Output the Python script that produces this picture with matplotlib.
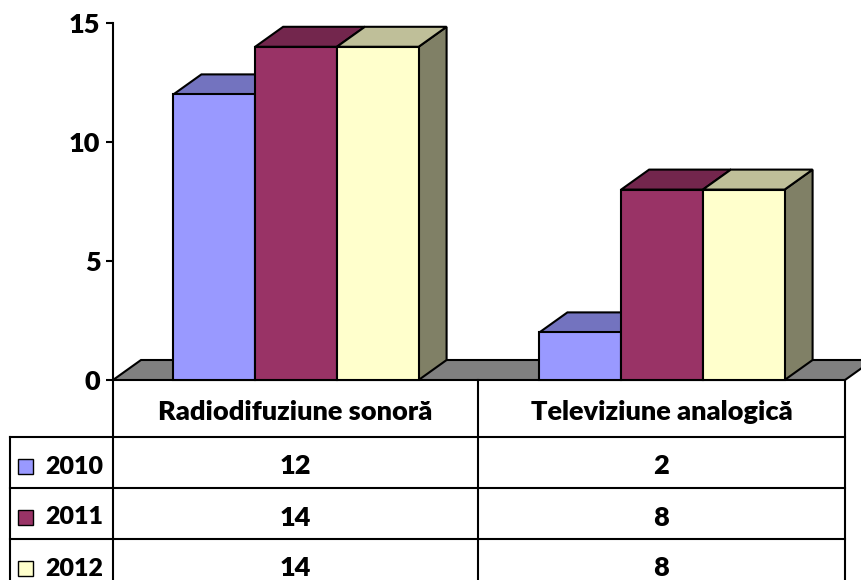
import matplotlib.pyplot as plt
import matplotlib.colors as mcolors
import numpy as np
from matplotlib.patches import Polygon, Rectangle

categories = ["Radiodifuziune sonoră", "Televiziune analogică"]
years = ["2010", "2011", "2012"]
values_2010 = [12, 2]
values_2011 = [14, 8]
values_2012 = [14, 8]
series = [values_2010, values_2011, values_2012]
colors = ["#9999FF", "#993366", "#FFFFCC"]
yticks = [0, 5, 10, 15]

plt.rcParams['font.family'] = ['Lato', 'DejaVu Sans']
plt.rcParams['font.weight'] = 'heavy'
fs = 19.5

W, H = 861, 580
fig = plt.figure(figsize=(W / 100, H / 100), dpi=100)

# plot area in pixels
x0, x1 = 113, 845
y_base, y_top = 380, 23
ax = fig.add_axes([x0 / W, 1 - y_base / H, (x1 - x0) / W, (y_base - y_top) / H])
ax.set_xlim(0, len(categories))
ax.set_ylim(0, 15)

# depth of the 3-D look, in data units
ddx = 28 / (x1 - x0) * len(categories)
ddy = 20 / (y_base - y_top) * 15
bw = 0.2233
gap = (1 - bw * len(series)) / 2


def shade(c, f):
    return tuple(np.array(mcolors.to_rgb(c)) * f)


lw = 1.5
n = len(categories)
ax.add_patch(Polygon([(0, 0), (n, 0), (n + ddx, ddy), (ddx, ddy)],
                     facecolor="#808080", edgecolor="black", lw=lw, clip_on=False))

for i in range(n):
    for j, vals in enumerate(series):
        h = vals[i]
        left = i + gap + j * bw
        right = left + bw
        c = colors[j]
        ax.add_patch(Polygon([(right, 0), (right + ddx, ddy), (right + ddx, h + ddy), (right, h)],
                             facecolor=shade(c, 0.5), edgecolor="black", lw=lw, clip_on=False))
        ax.add_patch(Polygon([(left, h), (right, h), (right + ddx, h + ddy), (left + ddx, h + ddy)],
                             facecolor=shade(c, 0.75), edgecolor="black", lw=lw, clip_on=False))
        ax.add_patch(Rectangle((left, 0), bw, h, facecolor=c, edgecolor="black", lw=lw,
                               clip_on=False))

for s in ["top", "right", "bottom"]:
    ax.spines[s].set_visible(False)
ax.spines["left"].set_linewidth(lw)
ax.set_xticks([])
ax.set_yticks(yticks)
ax.tick_params(axis="y", direction="out", length=5, width=lw, labelsize=fs, pad=4)
ax.patch.set_visible(False)

# data table under the chart, in pixel coordinates
tb = fig.add_axes([0, 0, 1, 1])
tb.set_xlim(0, W)
tb.set_ylim(H, 0)
tb.axis("off")

col_x = [10, 113, 478, 845]
row_y = [380, 437, 488, 539, 590]
for x in col_x[1:]:
    tb.plot([x, x], [row_y[0], row_y[-1]], color="black", lw=lw)
tb.plot([col_x[0], col_x[0]], [row_y[1], row_y[-1]], color="black", lw=lw)
for y in row_y[1:-1]:
    tb.plot([col_x[0], col_x[-1]], [y, y], color="black", lw=lw)

for k, cat in enumerate(categories):
    cx = (col_x[k + 1] + col_x[k + 2]) / 2
    tb.text(cx, (row_y[0] + row_y[1]) / 2 + 3, cat, ha="center", va="center", fontsize=fs)

for r, (yr, vals) in enumerate(zip(years, series)):
    cy = (row_y[r + 1] + row_y[r + 2]) / 2 + 4
    tb.add_patch(Rectangle((18, cy - 8), 15, 15, facecolor=colors[r], edgecolor="black", lw=1))
    tb.text(45, cy, yr, ha="left", va="center", fontsize=18)
    for k, v in enumerate(vals):
        cx = (col_x[k + 1] + col_x[k + 2]) / 2
        tb.text(cx, cy, str(v), ha="center", va="center", fontsize=fs)

fig.savefig("out.png", dpi=100)
